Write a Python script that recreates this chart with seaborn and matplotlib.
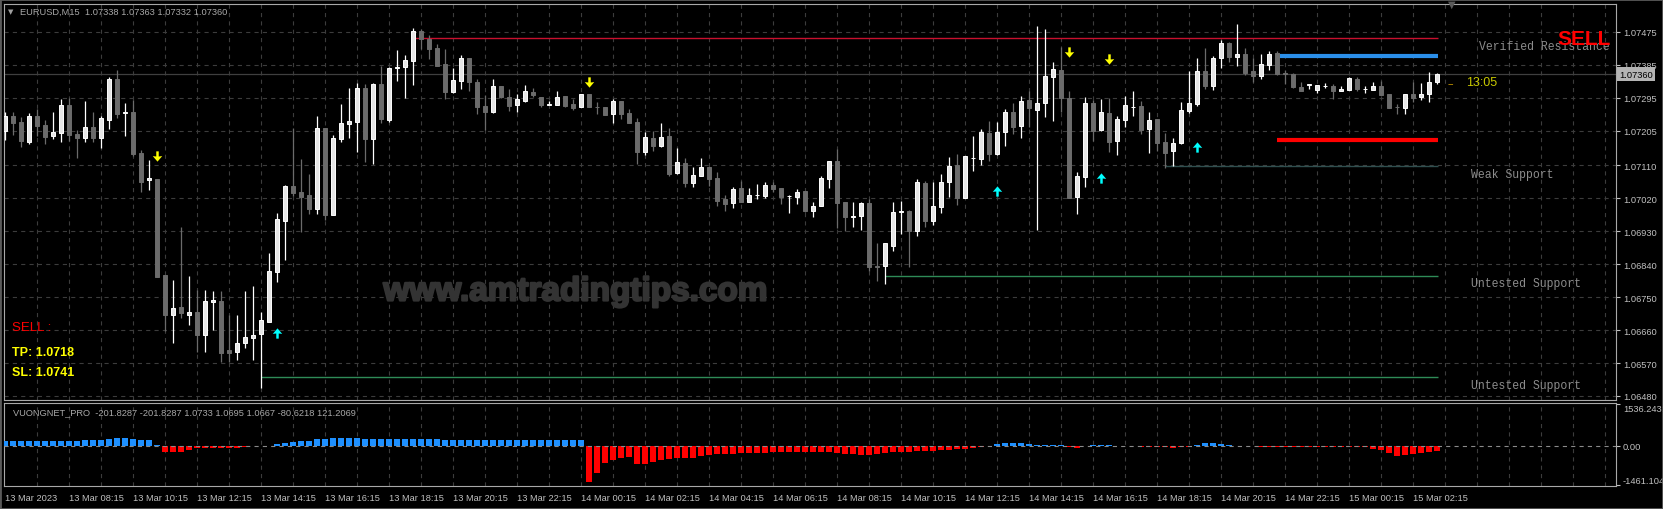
import matplotlib
matplotlib.use("Agg")
import matplotlib.pyplot as plt
import matplotlib.transforms as mtransforms
import matplotlib.patheffects as pe
from matplotlib.patches import Rectangle
from matplotlib.path import Path
import seaborn as sns
import numpy as np
import pandas as pd

sns.set_style("dark")
plt.rcParams["font.family"] = ["Liberation Sans", "DejaVu Sans"]
plt.rcParams["lines.scale_dashes"] = False

W, H = 1663, 510

# EURUSD M15 candles
opens = [1.07204, 1.07245, 1.07229, 1.07174, 1.07245, 1.07221, 1.07191, 1.07199, 1.07275, 1.07196,
         1.07185, 1.07215, 1.07185, 1.07234, 1.07346, 1.07254, 1.07256, 1.07144, 1.07070, 1.07073,
         1.06811, 1.06701, 1.06723, 1.06701, 1.06710, 1.06647, 1.06737, 1.06740, 1.06606, 1.06600,
         1.06625, 1.06638, 1.06649, 1.06682, 1.06819, 1.06958, 1.07054, 1.07038, 1.07029, 1.06991,
         1.07213, 1.06975, 1.07182, 1.07223, 1.07229, 1.07322, 1.07182, 1.07333, 1.07234, 1.07377,
         1.07379, 1.07396, 1.07478, 1.07456, 1.07431, 1.07388, 1.07311, 1.07341, 1.07404, 1.07338,
         1.07273, 1.07256, 1.07327, 1.07297, 1.07275, 1.07286, 1.07311, 1.07297, 1.07275, 1.07275,
         1.07300, 1.07278, 1.07270, 1.07305, 1.07270, 1.07270, 1.07251, 1.07286, 1.07254, 1.07229,
         1.07147, 1.07185, 1.07163, 1.07191, 1.07089, 1.07117, 1.07062, 1.07081, 1.07106, 1.07076,
         1.07018, 1.07007, 1.07048, 1.07010, 1.07029, 1.07027, 1.07057, 1.07048, 1.07027, 1.07024,
         1.07040, 1.06986, 1.06999, 1.07073, 1.07122, 1.07010, 1.06969, 1.06972, 1.07007, 1.06835,
         1.06835, 1.06890, 1.06983, 1.06986, 1.06931, 1.07062, 1.06958, 1.06997, 1.07065, 1.07111,
         1.07021, 1.07130, 1.07128, 1.07199, 1.07141, 1.07202, 1.07256, 1.07218, 1.07289, 1.07262,
         1.07281, 1.07352, 1.07371, 1.07295, 1.07024, 1.07079, 1.07281, 1.07207, 1.07254, 1.07177,
         1.07234, 1.07270, 1.07273, 1.07210, 1.07237, 1.07174, 1.07150, 1.07171, 1.07259, 1.07278,
         1.07368, 1.07327, 1.07404, 1.07445, 1.07407, 1.07415, 1.07368, 1.07355, 1.07385, 1.07418,
         1.07363, 1.07360, 1.07325, 1.07330, 1.07316, 1.07327, 1.07327, 1.07314, 1.07316, 1.07346,
         1.07319, 1.07316, 1.07327, 1.07305, 1.07270, 1.07267, 1.07305, 1.07297, 1.07305, 1.07338]
highs = [1.07256, 1.07256, 1.07243, 1.07254, 1.07264, 1.07234, 1.07256, 1.07292, 1.07295, 1.07207,
         1.07286, 1.07256, 1.07245, 1.07352, 1.07371, 1.07281, 1.07289, 1.07152, 1.07125, 1.07073,
         1.06811, 1.06797, 1.06942, 1.06808, 1.06770, 1.06770, 1.06767, 1.06767, 1.06701, 1.06701,
         1.06767, 1.06780, 1.06710, 1.06871, 1.06980, 1.07057, 1.07213, 1.07128, 1.07087, 1.07245,
         1.07213, 1.07193, 1.07278, 1.07322, 1.07336, 1.07333, 1.07336, 1.07382, 1.07379, 1.07426,
         1.07412, 1.07486, 1.07483, 1.07467, 1.07442, 1.07429, 1.07377, 1.07412, 1.07404, 1.07346,
         1.07303, 1.07346, 1.07327, 1.07319, 1.07305, 1.07330, 1.07322, 1.07297, 1.07286, 1.07314,
         1.07300, 1.07292, 1.07305, 1.07305, 1.07284, 1.07270, 1.07292, 1.07286, 1.07264, 1.07240,
         1.07202, 1.07204, 1.07226, 1.07213, 1.07158, 1.07130, 1.07106, 1.07130, 1.07106, 1.07092,
         1.07029, 1.07051, 1.07068, 1.07048, 1.07059, 1.07065, 1.07065, 1.07048, 1.07029, 1.07046,
         1.07040, 1.07010, 1.07081, 1.07122, 1.07155, 1.07010, 1.07010, 1.07010, 1.07018, 1.06898,
         1.06898, 1.07010, 1.07013, 1.06988, 1.07073, 1.07068, 1.07065, 1.07087, 1.07133, 1.07141,
         1.07136, 1.07191, 1.07210, 1.07232, 1.07229, 1.07264, 1.07281, 1.07300, 1.07314, 1.07491,
         1.07483, 1.07393, 1.07434, 1.07314, 1.07092, 1.07297, 1.07289, 1.07292, 1.07295, 1.07245,
         1.07300, 1.07314, 1.07286, 1.07256, 1.07237, 1.07199, 1.07185, 1.07284, 1.07368, 1.07404,
         1.07431, 1.07409, 1.07453, 1.07448, 1.07497, 1.07431, 1.07404, 1.07415, 1.07423, 1.07423,
         1.07371, 1.07363, 1.07338, 1.07333, 1.07330, 1.07336, 1.07333, 1.07327, 1.07352, 1.07352,
         1.07327, 1.07338, 1.07341, 1.07305, 1.07278, 1.07305, 1.07338, 1.07336, 1.07366, 1.07363]
lows = [1.07180, 1.07193, 1.07161, 1.07169, 1.07191, 1.07169, 1.07182, 1.07174, 1.07177, 1.07130,
        1.07174, 1.07174, 1.07158, 1.07210, 1.07240, 1.07191, 1.07136, 1.07038, 1.07043, 1.06805,
        1.06658, 1.06625, 1.06693, 1.06674, 1.06600, 1.06600, 1.06660, 1.06573, 1.06573, 1.06578,
        1.06611, 1.06578, 1.06502, 1.06682, 1.06792, 1.06852, 1.07027, 1.06928, 1.06977, 1.06977,
        1.06961, 1.06975, 1.07174, 1.07185, 1.07147, 1.07120, 1.07114, 1.07226, 1.07229, 1.07341,
        1.07295, 1.07330, 1.07429, 1.07401, 1.07382, 1.07292, 1.07308, 1.07319, 1.07314, 1.07251,
        1.07207, 1.07254, 1.07295, 1.07259, 1.07256, 1.07284, 1.07297, 1.07270, 1.07275, 1.07275,
        1.07270, 1.07262, 1.07270, 1.07270, 1.07251, 1.07248, 1.07226, 1.07237, 1.07226, 1.07114,
        1.07139, 1.07150, 1.07161, 1.07081, 1.07087, 1.07051, 1.07051, 1.07081, 1.07054, 1.06999,
        1.06986, 1.06994, 1.07010, 1.07010, 1.07018, 1.07021, 1.07038, 1.07005, 1.06980, 1.07005,
        1.06983, 1.06969, 1.06999, 1.07048, 1.06939, 1.06931, 1.06942, 1.06934, 1.06822, 1.06794,
        1.06786, 1.06876, 1.06923, 1.06833, 1.06917, 1.06942, 1.06947, 1.06980, 1.07024, 1.07002,
        1.07021, 1.07095, 1.07111, 1.07122, 1.07139, 1.07163, 1.07196, 1.07185, 1.07215, 1.06934,
        1.07243, 1.07232, 1.07256, 1.07021, 1.06977, 1.07051, 1.07177, 1.07204, 1.07147, 1.07139,
        1.07215, 1.07245, 1.07196, 1.07144, 1.07150, 1.07103, 1.07109, 1.07169, 1.07254, 1.07273,
        1.07319, 1.07316, 1.07377, 1.07393, 1.07382, 1.07357, 1.07338, 1.07346, 1.07371, 1.07357,
        1.07333, 1.07322, 1.07314, 1.07319, 1.07308, 1.07322, 1.07292, 1.07314, 1.07316, 1.07314,
        1.07308, 1.07316, 1.07303, 1.07267, 1.07251, 1.07251, 1.07284, 1.07289, 1.07284, 1.07332]
closes = [1.07245, 1.07226, 1.07177, 1.07245, 1.07218, 1.07188, 1.07202, 1.07275, 1.07193, 1.07185,
          1.07215, 1.07185, 1.07240, 1.07346, 1.07251, 1.07256, 1.07141, 1.07065, 1.07076, 1.06805,
          1.06701, 1.06720, 1.06707, 1.06710, 1.06647, 1.06740, 1.06742, 1.06597, 1.06597, 1.06625,
          1.06641, 1.06647, 1.06688, 1.06822, 1.06964, 1.07054, 1.07035, 1.07024, 1.06991, 1.07213,
          1.06975, 1.07185, 1.07226, 1.07232, 1.07322, 1.07182, 1.07333, 1.07237, 1.07377, 1.07379,
          1.07398, 1.07478, 1.07456, 1.07429, 1.07382, 1.07311, 1.07344, 1.07404, 1.07338, 1.07270,
          1.07256, 1.07327, 1.07297, 1.07273, 1.07292, 1.07314, 1.07303, 1.07275, 1.07278, 1.07297,
          1.07273, 1.07267, 1.07305, 1.07270, 1.07269, 1.07248, 1.07286, 1.07251, 1.07226, 1.07147,
          1.07188, 1.07163, 1.07188, 1.07087, 1.07120, 1.07062, 1.07084, 1.07106, 1.07073, 1.07013,
          1.07005, 1.07046, 1.07010, 1.07029, 1.07029, 1.07057, 1.07046, 1.07024, 1.07027, 1.07038,
          1.06986, 1.06999, 1.07076, 1.07122, 1.07007, 1.06969, 1.06972, 1.07007, 1.06833, 1.06833,
          1.06898, 1.06983, 1.06986, 1.06931, 1.07065, 1.06958, 1.06999, 1.07065, 1.07109, 1.07021,
          1.07136, 1.07130, 1.07202, 1.07141, 1.07202, 1.07256, 1.07215, 1.07286, 1.07267, 1.07281,
          1.07355, 1.07374, 1.07295, 1.07021, 1.07081, 1.07281, 1.07204, 1.07256, 1.07174, 1.07237,
          1.07275, 1.07270, 1.07207, 1.07234, 1.07171, 1.07144, 1.07171, 1.07262, 1.07281, 1.07368,
          1.07327, 1.07404, 1.07445, 1.07407, 1.07415, 1.07363, 1.07355, 1.07388, 1.07415, 1.07360,
          1.07360, 1.07325, 1.07314, 1.07333, 1.07330, 1.07327, 1.07314, 1.07319, 1.07349, 1.07319,
          1.07319, 1.07327, 1.07303, 1.07267, 1.07269, 1.07305, 1.07295, 1.07305, 1.07338, 1.07360]

# VUONGNET_PRO histogram
hist = [165, 175, 175, 170, 175, 175, 175, 175, 175, 175,
        210, 210, 210, 235, 284, 284, 240, 205, 200, 10,
        -222, -250, -222, -148, -99, -74, -74, -74, -74, -74,
        -37, -10, -10, -10, 40, 75, 120, 150, 160, 230,
        250, 265, 265, 265, 265, 250, 250, 250, 250, 250,
        250, 250, 250, 240, 240, 220, 220, 220, 220, 220,
        220, 200, 200, 200, 200, 200, 200, 200, 200, 200,
        200, 200, 200, -1350, -1024, -654, -530, -469, -407, -678,
        -678, -592, -530, -493, -469, -444, -444, -370, -345, -321,
        -321, -321, -284, -284, -284, -284, -247, -247, -247, -247,
        -247, -247, -247, -247, -284, -308, -308, -345, -345, -321,
        -284, -247, -222, -222, -197, -197, -185, -160, -160, -136,
        -123, -99, -49, -5, 62, 86, 86, 86, 49, 37,
        25, 25, 25, -37, -74, -12, 10, 10, 12, -12,
        -25, -25, -37, -37, -49, -49, -74, -49, -37, 25,
        86, 86, 74, 25, -12, -12, -25, -37, -37, -37,
        -37, -37, -49, -49, -49, -49, -49, -49, -49, -49,
        -49, -123, -173, -259, -382, -345, -308, -284, -247, -197]
ind_values = ["-201.8287", "-201.8287", "1.0733", "1.0695", "1.0667", "-80.6218", "121.2069"]

# support / resistance zones
zone_prices = [1.07458, 1.07108, 1.06809, 1.06531]
zone_start = [51, 145, 110, 32]
zone_labels = ["Verified Resistance", "Weak Support", "Untested Support", "Untested Support"]
zone_colors = ["#c8102e", "#2f4f4f", "#2e8b57", "#2e8b57"]
sl_price, tp_price = 1.0741, 1.0718
trade_start = 159

down_idx = [19, 73, 133, 138]
down_price = [1.07136, 1.07338, 1.07420, 1.07401]
up_idx = [34, 124, 137, 149]
up_price = [1.06652, 1.07040, 1.07076, 1.07161]

price_ticks = [1.07475, 1.07385, 1.07295, 1.07205, 1.07110, 1.07020,
               1.06930, 1.06840, 1.06750, 1.06660, 1.06570, 1.06480]
ind_ticks = [1536.2431, 0.0, -1461.104]
ind_tick_labels = ["1536.2431", "0.00", "-1461.104"]

times = pd.date_range("2023-03-13 06:15", periods=len(closes), freq="15min")
label_idx = list(range(0, len(closes), 8))
time_labels = [times[0].strftime("%d Mar %Y")] + [times[i].strftime("%d Mar %H:%M") for i in label_idx[1:]]

silver = "#c0c0c0"
grid_c = "#3c3c3c"
bear_c = "#6b6b6b"

# wingdings-like thick arrows
_down = [(-0.12, 0.5), (0.12, 0.5), (0.12, 0.0), (0.46, 0.04), (0.0, -0.5),
         (-0.46, 0.04), (-0.12, 0.0), (-0.12, 0.5)]
_codes = [Path.MOVETO] + [Path.LINETO] * 6 + [Path.CLOSEPOLY]
down_marker = Path(_down, _codes)
up_marker = Path([(x, -y) for x, y in _down], _codes)


def rect(x0, y0, x1, y1):
    return [x0 / W, 1 - y1 / H, (x1 - x0) / W, (y1 - y0) / H]


def ftext(x, y, s, **kw):
    return fig.text(x / W, 1 - y / H, s, **kw)


fig = plt.figure(figsize=(W / 100, H / 100), dpi=100, facecolor="black")
ax = fig.add_axes(rect(4, 5, 1616, 401))
ax2 = fig.add_axes(rect(4, 404, 1616, 487))
xlim = (-0.125, 201.375)
ylim = (1.064689, 1.075515)
ind_lim = (-1498.5, 1572.5)

for a in (ax, ax2):
    a.set_facecolor("black")
    a.grid(False)
    for s in a.spines.values():
        s.set_color("#a8a8a8")
        s.set_linewidth(0.8)

# grid
grid_idx = np.arange(4, 201, 4)
ax.vlines(grid_idx, *ylim, color=grid_c, lw=0.8, ls=(0, (3, 3)), zorder=0)
ax.hlines(price_ticks, *xlim, color=grid_c, lw=0.8, ls=(0, (3, 3)), zorder=0)
ax2.vlines(grid_idx, *ind_lim, color=grid_c, lw=0.8, ls=(0, (3, 3)), zorder=0)

# bid line
ax.axhline(closes[-1], color="#3f3f3f", lw=0.9, zorder=1)

# zones
last = len(closes) - 1 + 0.1
ax.hlines(zone_prices, zone_start, last, colors=zone_colors, lw=1.0, zorder=2)
lab_off = mtransforms.offset_copy(ax.transData, fig=fig, x=0, y=-7.5, units="dots")
for k, (p, lab) in enumerate(zip(zone_prices, zone_labels)):
    ax.text(183.25 + (1 if k == 0 else 0), p, lab, transform=lab_off, color="#8c8c8c",
            fontsize=8.3, family="Liberation Mono", va="center", ha="left", clip_on=True)

# SL / TP lines
ax.hlines([sl_price], trade_start, last, color="#2b8fea", lw=3, zorder=3)
ax.hlines([tp_price], trade_start, last, color="#ff0000", lw=3, zorder=3)

# candles
idx = np.arange(len(closes))
o, c, h, l = map(np.array, (opens, closes, highs, lows))
bull = c >= o
wick_col = np.where(bull, "white", bear_c)
body_col = np.where(bull, "#e6e6e6", bear_c)
edge_col = np.where(bull, "white", bear_c)
ax.vlines(idx, l, h, colors=wick_col, lw=0.9, zorder=4)
ax.bar(idx, np.abs(c - o), bottom=np.minimum(o, c), width=0.56, color=body_col,
       edgecolor=edge_col, linewidth=0.7, zorder=5)

# signal arrows
ax.scatter(down_idx, down_price, marker=down_marker, s=55, color="#ffff00", linewidths=0, zorder=6)
ax.scatter(up_idx, up_price, marker=up_marker, s=55, color="#00ffff", linewidths=0, zorder=6)

ax.set_xlim(*xlim)
ax.set_ylim(*ylim)
ax.set_xticks([])
ax.yaxis.tick_right()
ax.set_yticks(price_ticks)
ax.set_yticklabels([f"{p:.5f}" for p in price_ticks])
ax.tick_params(axis="y", colors=silver, labelsize=6.7, length=3, width=0.8, pad=2)
ax.set_xlabel("")
ax.set_ylabel("")

# indicator histogram
ind = pd.DataFrame({"i": idx, "v": hist, "s": np.where(np.array(hist) >= 0, "up", "down")})
sns.barplot(data=ind, x="i", y="v", hue="s", palette={"up": "#1e90ff", "down": "#ff0000"},
            native_scale=True, dodge=False, width=0.65, legend=False, saturation=1,
            linewidth=0, errorbar=None, ax=ax2, zorder=3)
ax2.axhline(0, color="#8a8a8a", lw=0.8, ls=(0, (3, 3)), zorder=4)
ax2.set_xlim(*xlim)
ax2.set_ylim(*ind_lim)
ax2.set_xlabel("")
ax2.set_ylabel("")
ax2.yaxis.tick_right()
ax2.set_yticks(ind_ticks)
ax2.set_yticklabels(ind_tick_labels)
ylabs = ax2.get_yticklabels()
ylabs[0].set_va("top")
ylabs[2].set_va("bottom")
ax2.tick_params(axis="y", colors=silver, labelsize=6.7, length=3, width=0.8, pad=2)
ax2.set_xticks(label_idx)
ax2.set_xticklabels(time_labels, ha="left")
ax2.tick_params(axis="x", colors=silver, labelsize=6.7, length=3, width=0.8, pad=2)

# header texts
ftext(8, 12, "\u25bc", color="#a0a0a0", fontsize=5, family="DejaVu Sans", va="center")
ftext(20, 12.5, f"EURUSD,M15  {opens[-1]:.5f} {highs[-1]:.5f} {lows[-1]:.5f} {closes[-1]:.5f}",
      color="#a8a8a8", fontsize=6.7, va="center")
ftext(13, 413, "VUONGNET_PRO  " + " ".join(ind_values), color="#a8a8a8", fontsize=6.7, va="center")
ftext(1452, 5, "\u25bc", color="#5a5a5a", fontsize=7, family="DejaVu Sans", ha="center", va="center")

# price box for bid
ftext(1619, 75, f"{closes[-1]:.5f}", color="black", fontsize=6.7, va="center",
      bbox=dict(boxstyle="square,pad=0.25", fc="#b4b4b4", ec="none"))

# signal panel
ftext(1557, 40, "SELL", color="#ff0000", fontsize=15, fontweight="bold", va="center")
ftext(1448, 84, "--", color="#d4a000", fontsize=7, va="center")
ftext(1466, 83, "13:05", color="#c8c800", fontsize=9, va="center")
ftext(12, 328, "SELL :", color="#ff0000", fontsize=9.5, va="center")
ftext(12, 353, f"TP: {tp_price:.4f}", color="#ffff00", fontsize=9, fontweight="bold", va="center")
ftext(12, 373, f"SL: {sl_price:.4f}", color="#ffff00", fontsize=9, fontweight="bold", va="center")

# watermark
wm = ftext(576, 293, "www.amtradingtips.com", color="#333333", fontsize=24, fontweight="bold",
           ha="center", va="center", zorder=0)
wm.set_path_effects([pe.withStroke(linewidth=1.6, foreground="#333333")])

fig.patches.append(Rectangle((0, 0), 1, 1, transform=fig.transFigure, fill=False,
                             ec="#5a5a5a", lw=2))

fig.savefig("out.png", dpi=100, facecolor="black")
